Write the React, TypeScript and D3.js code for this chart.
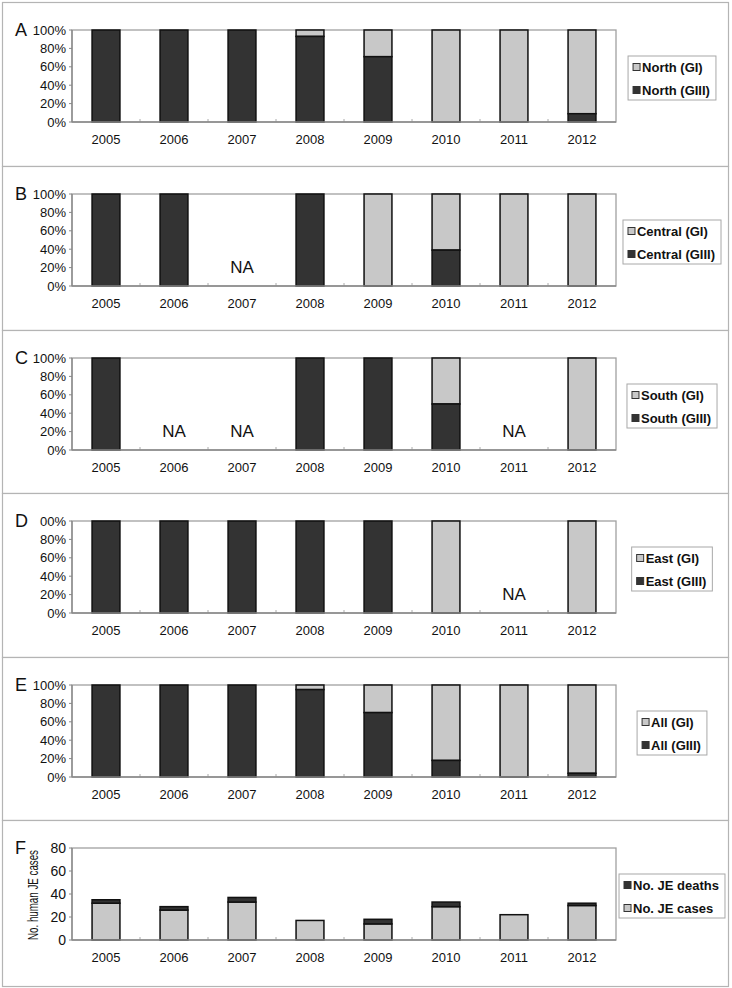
import React, { useEffect, useRef } from "react";
import * as d3 from "d3";

const years = ["2005", "2006", "2007", "2008", "2009", "2010", "2011", "2012"];
const panelLetters = ["A", "B", "C", "D", "E", "F"];
const regions = ["North", "Central", "South", "East", "All"];
// GIII share in % (null = NA); GI = 100 - GIII
const northGIII: (number | null)[] = [100, 100, 100, 93, 71, 0, 0, 9];
const centralGIII: (number | null)[] = [100, 100, null, 100, 0, 39, 0, 0];
const southGIII: (number | null)[] = [100, null, null, 100, 100, 50, null, 0];
const eastGIII: (number | null)[] = [100, 100, 100, 100, 100, 0, null, 0];
const allGIII: (number | null)[] = [100, 100, 100, 95, 70, 18, 0, 4];
const pctTicks = [0, 20, 40, 60, 80, 100];
const pctTickLabels = ["0%", "20%", "40%", "60%", "80%", "100%"];
const eastTickLabels = ["0%", "20%", "40%", "60%", "80%", "00%"];
const jeCases = [32, 26, 33, 17, 14, 29, 22, 30];
const jeDeaths = [3, 3, 4, 0, 4, 4, 0, 2];
const countTicks = [0, 20, 40, 60, 80];
const fLegend = ["No. JE deaths", "No. JE cases"];
const fYLabel = "No. human JE cases";

const DARK = "#333333";
const LIGHT = "#c8c8c8";
const FRAME = "#b4b4b4";
const AXIS = "#888888";
const FONT = "'Liberation Sans', Arial, sans-serif";

export default function App() {
  const ref = useRef<SVGSVGElement | null>(null);

  useEffect(() => {
    const svg = d3.select(ref.current);
    svg.selectAll("*").remove();
    const panelTops = [2, 166, 330, 493, 657, 820, 986];
    const plotLeft = 72;
    const plotRight = 616;
    const plotH = 92;

    const x = d3.scaleBand<string>().domain(years).range([plotLeft, plotRight]).paddingInner(0).paddingOuter(0);
    const barW = x.bandwidth() * 0.41;

    const series = [northGIII, centralGIII, southGIII, eastGIII, allGIII];

    for (let p = 0; p < 6; p++) {
      const top = panelTops[p];
      const bottom = panelTops[p + 1];
      const g = svg.append("g");
      g.append("rect")
        .attr("x", 2.5).attr("y", top + 0.5)
        .attr("width", 726).attr("height", bottom - top)
        .attr("fill", "white").attr("stroke", FRAME).attr("stroke-width", 1.2);

      const pt = top + 28;
      const pb = pt + plotH;
      const isF = p === 5;
      const y = d3.scaleLinear().domain(isF ? [0, 80] : [0, 100]).range([pb, pt]);

      g.append("rect")
        .attr("x", plotLeft).attr("y", pt)
        .attr("width", plotRight - plotLeft).attr("height", plotH)
        .attr("fill", "none").attr("stroke", "#a0a0a0").attr("stroke-width", 1.3);

      const ticks = isF ? countTicks : pctTicks;
      const labels = isF ? countTicks.map(String) : (p === 3 ? eastTickLabels : pctTickLabels);
      ticks.forEach((t, i) => {
        g.append("line")
          .attr("x1", plotLeft - 3).attr("x2", plotLeft)
          .attr("y1", y(t)).attr("y2", y(t))
          .attr("stroke", AXIS).attr("stroke-width", 1);
        g.append("text")
          .attr("x", plotLeft - 6).attr("y", y(t))
          .attr("dy", "0.35em").attr("text-anchor", "end")
          .attr("font-family", FONT).attr("font-size", isF ? 14 : 13)
          .attr("fill", "#111").text(labels[i]);
      });

      years.forEach((yr, i) => {
        if (i === 0) return;
        const bx = x(yr)!;
        g.append("line")
          .attr("x1", bx).attr("x2", bx).attr("y1", pb - 3).attr("y2", pb)
          .attr("stroke", "#aaaaaa").attr("stroke-width", 1);
      });

      years.forEach((yr, i) => {
        const cx = x(yr)! + x.bandwidth() / 2;
        const bx = cx - barW / 2;
        g.append("text")
          .attr("x", cx).attr("y", pb + 17)
          .attr("dy", "0.35em").attr("text-anchor", "middle")
          .attr("font-family", FONT).attr("font-size", 13)
          .attr("fill", "#111").text(yr);
        if (!isF) {
          const v = series[p][i];
          if (v === null) {
            g.append("text")
              .attr("x", cx).attr("y", pb - 13)
              .attr("text-anchor", "middle")
              .attr("font-family", FONT).attr("font-size", 17)
              .attr("fill", "#111").text("NA");
            return;
          }
          if (100 - v > 0) {
            g.append("rect").attr("x", bx).attr("y", y(100)).attr("width", barW)
              .attr("height", y(v) - y(100)).attr("fill", LIGHT)
              .attr("stroke", "#111").attr("stroke-width", 1.5);
          }
          if (v > 0) {
            g.append("rect").attr("x", bx).attr("y", y(v)).attr("width", barW)
              .attr("height", y(0) - y(v)).attr("fill", DARK)
              .attr("stroke", "#111").attr("stroke-width", 1.5);
          }
        } else {
          const c = jeCases[i];
          const dd = jeDeaths[i];
          g.append("rect").attr("x", bx).attr("y", y(c)).attr("width", barW)
            .attr("height", y(0) - y(c)).attr("fill", LIGHT)
            .attr("stroke", "#111").attr("stroke-width", 1.5);
          if (dd > 0) {
            g.append("rect").attr("x", bx).attr("y", y(c + dd)).attr("width", barW)
              .attr("height", y(c) - y(c + dd)).attr("fill", DARK)
              .attr("stroke", "#111").attr("stroke-width", 1.5);
          }
        }
      });

      g.append("line").attr("x1", plotLeft).attr("x2", plotLeft).attr("y1", pt).attr("y2", pb)
        .attr("stroke", AXIS).attr("stroke-width", 1.3);
      g.append("line").attr("x1", plotLeft).attr("x2", plotRight).attr("y1", pb).attr("y2", pb)
        .attr("stroke", AXIS).attr("stroke-width", 1.3);

      g.append("text")
        .attr("x", 15).attr("y", pt + 6)
        .attr("font-family", FONT).attr("font-size", 18)
        .attr("fill", "#111").text(panelLetters[p]);

      if (isF) {
        g.append("text")
          .attr("transform", `translate(38,${(pt + pb) / 2 + 1}) rotate(-90)`)
          .attr("text-anchor", "middle")
          .attr("font-family", FONT).attr("font-size", 14)
          .attr("textLength", 90).attr("lengthAdjust", "spacingAndGlyphs")
          .attr("fill", "#111").text(fYLabel);
      }

      const items = isF
        ? [{ label: fLegend[0], color: DARK }, { label: fLegend[1], color: LIGHT }]
        : [{ label: `${regions[p]} (GI)`, color: LIGHT }, { label: `${regions[p]} (GIII)`, color: DARK }];
      const lg = g.append("g");
      const texts = items.map((it, k) =>
        lg.append("text")
          .attr("x", 0).attr("y", pt + 37 + k * 23)
          .attr("dy", "0.35em")
          .attr("font-family", FONT).attr("font-size", 13).attr("font-weight", "bold")
          .attr("fill", "#111").text(it.label)
      );
      const tw = Math.max(...texts.map((t) => (t.node() as SVGTextElement).getComputedTextLength()));
      const boxW = tw + 20;
      const cxL = 672;
      const boxL = cxL - boxW / 2;
      lg.insert("rect", ":first-child")
        .attr("x", boxL).attr("y", pt + 26)
        .attr("width", boxW).attr("height", 44)
        .attr("fill", "white").attr("stroke", "#a8a8a8").attr("stroke-width", 1);
      items.forEach((it, k) => {
        const yy = pt + 37 + k * 23;
        lg.append("rect").attr("x", boxL + 5).attr("y", yy - 3.5)
          .attr("width", 7).attr("height", 7)
          .attr("fill", it.color).attr("stroke", "#333").attr("stroke-width", 1);
        texts[k].attr("x", boxL + 14);
      });
    }
  }, []);

  return (
    <svg ref={ref} width={732} height={988} style={{ display: "block", position: "absolute", left: 0, top: 0, background: "white" }} />
  );
}
